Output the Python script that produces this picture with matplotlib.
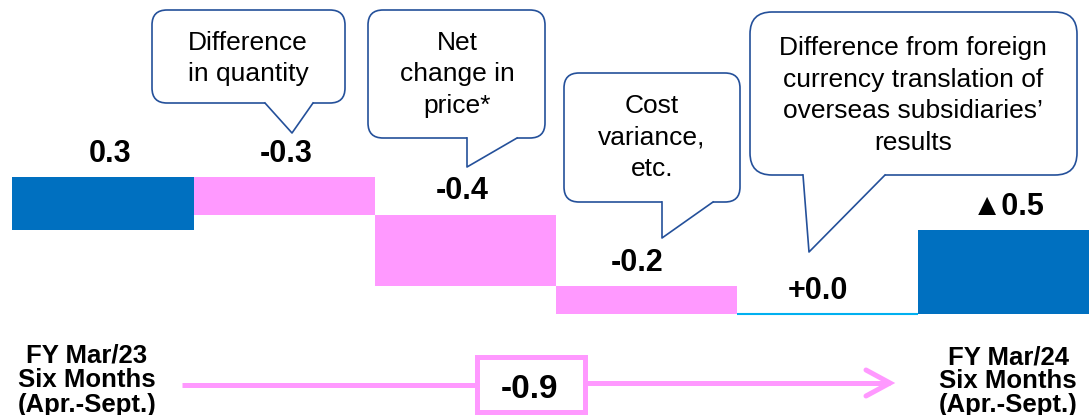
import matplotlib.pyplot as plt
from matplotlib.patches import FancyBboxPatch, Polygon, Rectangle

plt.rcParams['font.family'] = ['Liberation Sans', 'DejaVu Sans']

# bar heights; the printed labels are the rounded figures
start_value = 0.31
step_values = [-0.22, -0.42, -0.165, 0.0]
end_value = -0.495
value_labels = ['0.3', '-0.3', '-0.4', '-0.2', '+0.0', '▲0.5']
total_label = '-0.9'
start_name = ['FY Mar/23', 'Six Months', '(Apr.-Sept.)']
end_name = ['FY Mar/24', 'Six Months', '(Apr.-Sept.)']
callout_texts = [
    ['Difference', 'in quantity'],
    ['Net', 'change in', 'price*'],
    ['Cost', 'variance,', 'etc.'],
    ['Difference from foreign', 'currency translation of',
     'overseas subsidiaries\u2019', 'results'],
]

BLUE = '#0070C0'
PINK = '#FF99FF'
LIGHT_BLUE = '#00B0F0'
EDGE = '#24509A'

W, H = 1089, 415
fig = plt.figure(figsize=(W / 100, H / 100), dpi=100)
ax = fig.add_axes([0, 0, 1, 1])
ax.set_xlim(-103 / 181, (W - 103) / 181)
ax.set_ylim(-(H - 230) / 170, 230 / 170)
ax.axis('off')

# waterfall
tops = []
ax.bar(0, start_value, width=1.0, color=BLUE)
tops.append(start_value)
level = start_value
for i, step in enumerate(step_values, start=1):
    new_level = level + step
    if step == 0:
        ax.hlines(level, i - 0.5, i + 0.5, color=LIGHT_BLUE, lw=1.5)
    else:
        ax.bar(i, step, bottom=level, width=1.0, color=PINK)
    tops.append(max(level, new_level))
    level = new_level
n = len(step_values) + 1
ax.bar(n, end_value, width=1.0, color=BLUE)
tops.append(max(0, end_value))

dx = [7, 2, -3, -9, -9, 0]
for i, (lab, top) in enumerate(zip(value_labels, tops)):
    ax.annotate(lab, (i, top), xytext=(dx[i] * 0.72, 11), textcoords='offset points',
                ha='center', va='baseline', fontsize=22, fontweight='bold')

# overlay in pixel units for the callouts and the bottom arrow
ov = fig.add_axes([0, 0, 1, 1])
ov.set_xlim(0, W)
ov.set_ylim(H, 0)
ov.axis('off')
ov.patch.set_alpha(0)


def callout(box, tail, lines, cx, baseline0, step=31.5, radius=15):
    x0, y0, x1, y1 = box
    ov.add_patch(FancyBboxPatch((x0, y0), x1 - x0, y1 - y0,
                                boxstyle=f'round,pad=0,rounding_size={radius}',
                                fc='white', ec=EDGE, lw=1.2))
    bl, tip, br = tail
    ov.add_patch(Polygon([(bl + 1, y1 - 3), (bl, y1), tip, (br, y1), (br - 1, y1 - 3)],
                         closed=True, fc='white', ec='none'))
    ov.plot([bl, tip[0], br], [y1, tip[1], y1], color=EDGE, lw=1.2)
    for k, line in enumerate(lines):
        ov.text(cx, baseline0 + k * step, line, ha='center', va='baseline', fontsize=19)


callout((152, 10, 345, 103), (265, (292, 133), 313), callout_texts[0], 248, 50)
callout((368, 10, 545, 138), (467, (467, 167), 517), callout_texts[1], 457, 50)
callout((564, 73, 740, 202), (662, (662, 238), 713), callout_texts[2], 652, 113)
callout((750, 12, 1077, 175), (803, (809, 252), 885), callout_texts[3], 913, 55, radius=22)

# bottom arrow with total
ov.plot([182, 477], [385, 385], color=PINK, lw=3.6, solid_capstyle='butt')
ov.plot([585, 890], [383, 383], color=PINK, lw=3.6, solid_capstyle='butt')
ov.plot([866, 890, 866], [370, 383, 396], color=PINK, lw=3.6,
        solid_capstyle='round', solid_joinstyle='miter')
ov.add_patch(Rectangle((477, 357), 108, 55, fc='white', ec=PINK, lw=3.6))
ov.text(530, 398, total_label, ha='center', va='baseline', fontsize=24, fontweight='bold')

for k, line in enumerate(start_name):
    ov.text(87, 362 + k * 25, line, ha='center', va='baseline', fontsize=18.5, fontweight='bold')
for k, line in enumerate(end_name):
    ov.text(1008, 364 + k * 24, line, ha='center', va='baseline', fontsize=18.5, fontweight='bold')

fig.savefig('out.png', dpi=100)
